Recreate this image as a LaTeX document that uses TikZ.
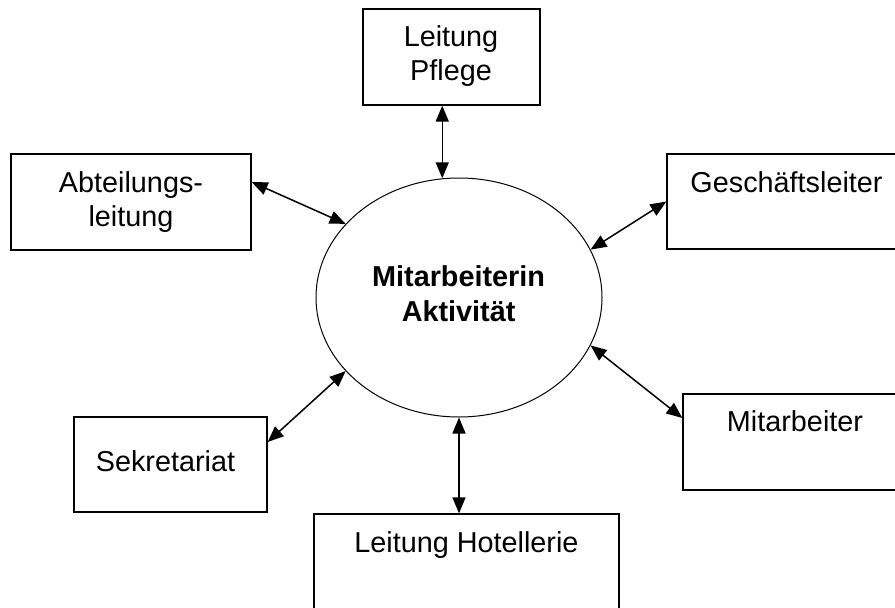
\documentclass[tikz,border=0pt]{standalone}
\usepackage{fontspec}
\setmainfont{Liberation Sans}
\usetikzlibrary{arrows.meta,shapes.geometric}
\begin{document}
\begin{tikzpicture}[x=1pt,y=-1pt,
  box/.style={draw,line width=1.3pt,inner sep=0pt,rectangle},
  txt/.style={font=\fontsize{28.8}{34.5}\selectfont,align=center,anchor=base,inner sep=0pt},
  oval/.style={draw,ellipse,line width=1pt,inner sep=0pt,minimum width=286pt,minimum height=239pt},
  arr/.style={line width=1.5pt,{Triangle[length=16pt,width=13pt]}-{Triangle[length=16pt,width=13pt]}}]
\useasboundingbox (0,0) rectangle (895,608);
% boxes
\node[box,minimum width=177pt,minimum height=96pt] (pflege) at (451.5,57) {};
\node[box,minimum width=240pt,minimum height=96pt] (abt) at (131,202) {};
\node[box,minimum width=238pt,minimum height=95pt] (gesch) at (786,201.5) {};
\node[box,minimum width=193pt,minimum height=95pt] (sekr) at (170.5,464.5) {};
\node[box,minimum width=222pt,minimum height=96pt] (mitarb) at (794,442) {};
\node[box,minimum width=305pt,minimum height=106pt] (hotel) at (466.5,567) {};
\node[oval] (ell) at (459,297.5) {};
% texts (base = baseline of last line)
\node[txt] (pflegeT) at (451,80.5) {Leitung\\Pflege};
\node[txt] (abtT) at (131,226.5) {Abteilungs-\\leitung};
\node[txt] (geschT) at (786.5,192) {Geschäftsleiter};
\node[txt,font=\fontsize{28.8}{34.5}\selectfont\bfseries] (ellT) at (458.6,321.3) {Mitarbeiterin\\Aktivität};
\node[txt] (sekrT) at (165.5,471) {Sekretariat};
\node[txt] (mitarbT) at (795,431) {Mitarbeiter};
\node[txt] (hotelT) at (466.5,552) {Leitung Hotellerie};
% connectors
\draw[arr] (ell.98) -- (ell.98 |- pflege.south);
\draw[arr] ([yshift=20pt]abt.east) -- (ell.147.5);
\draw[arr] (gesch.west) -- (ell.20.8);
\draw[arr] ([yshift=22.5pt]sekr.east) -- (ell.-147.2);
\draw[arr] (ell.-20.8) -- ([yshift=24pt]mitarb.west);
\draw[arr] (ell.south) -- (ell.south |- hotel.north);
\end{tikzpicture}
\end{document}
